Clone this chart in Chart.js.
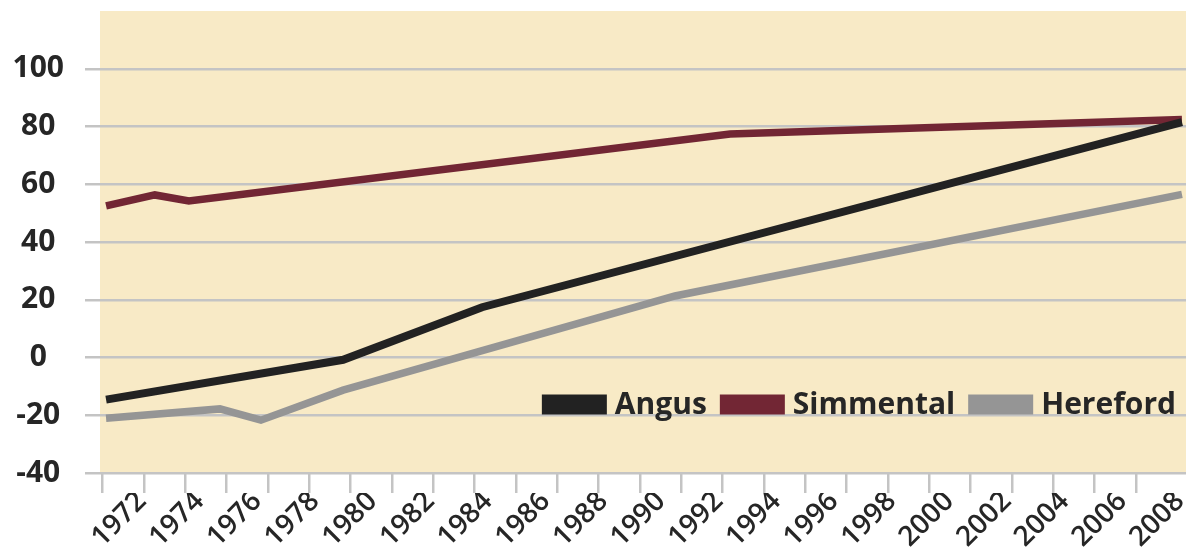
<!DOCTYPE html>
<html><head><meta charset="utf-8">
<script src="https://cdn.jsdelivr.net/npm/chart.js@4"></script>
<style>html,body{margin:0;padding:0;background:#fff;}#wrap{width:1186px;height:550px;}</style>
</head><body><div id="wrap"><canvas id="c" width="1186" height="550"></canvas></div>
<script>
// ---- data ----
const seriesNames = ['Angus', 'Simmental', 'Hereford'];
const angusYears = [1970.86, 1979.08, 1983.90, 2008.17];
const angusValues = [-14.6, -0.8, 17.4, 81.5];
const simmentalYears = [1970.86, 1972.55, 1973.73, 1992.50, 2008.17];
const simmentalValues = [52.5, 56.3, 54.2, 77.4, 82.4];
const herefordYears = [1970.86, 1974.81, 1976.23, 1979.08, 1990.59, 2008.17];
const herefordValues = [-21.0, -17.8, -21.7, -11.3, 21.3, 56.5];
const xTickLabels = [1972, 1974, 1976, 1978, 1980, 1982, 1984, 1986, 1988, 1990, 1992, 1994, 1996, 1998, 2000, 2002, 2004, 2006, 2008];
const yTickValues = [-40, -20, 0, 20, 40, 60, 80, 100];
const tickMarkIndex = [0,1,2,3,4,5,6,7,8,9,10,11,12,13,14,15,16,17,18,19,20,21,22,23,24,25];

function pts(xs, ys) { return xs.map((x, i) => ({x: x, y: ys[i]})); }

const FONT = '"Open Sans", "Noto Sans", sans-serif';
const GRID = '#c4c4c4';

function noPad(s) { s.paddingTop = 0; s.paddingBottom = 0; s.paddingLeft = 0; s.paddingRight = 0; }

const bgPlugin = {
  id: 'plotBg',
  beforeDraw(chart) {
    const {ctx, chartArea: a} = chart;
    ctx.save();
    ctx.fillStyle = '#f8eac6';
    ctx.fillRect(a.left, a.top, a.right - a.left, a.bottom - a.top);
    ctx.restore();
  }
};

const legendPlugin = {
  id: 'insideLegend',
  afterDatasetsDraw(chart) {
    const {ctx, chartArea: a} = chart;
    ctx.save();
    ctx.font = 'bold 30px ' + FONT;
    ctx.textBaseline = 'middle';
    ctx.textAlign = 'left';
    const boxW = 65, boxH = 20, gapBT = 8, gapItem = 13;
    const items = chart.data.datasets.map(d => ({label: d.label, color: d.borderColor, w: ctx.measureText(d.label).width}));
    const total = items.reduce((s, it) => s + boxW + gapBT + it.w, 0) + gapItem * (items.length - 1);
    let x = a.right - 10 - total;
    const cy = a.bottom - 68.5;
    items.forEach(it => {
      ctx.fillStyle = it.color;
      ctx.fillRect(x, cy - boxH / 2, boxW, boxH);
      x += boxW + gapBT;
      ctx.fillStyle = '#262626';
      ctx.fillText(it.label, x, cy + 1);
      x += it.w + gapItem;
    });
    ctx.restore();
  }
};

new Chart(document.getElementById('c'), {
  type: 'line',
  data: {
    datasets: [
      {label: seriesNames[0], data: pts(angusYears, angusValues), borderColor: '#222222', borderWidth: 8},
      {label: seriesNames[1], data: pts(simmentalYears, simmentalValues), borderColor: '#722634', borderWidth: 7.5},
      {label: seriesNames[2], data: pts(herefordYears, herefordValues), borderColor: '#959595', borderWidth: 7.5}
    ].map(d => Object.assign(d, {pointRadius: 0, tension: 0, fill: false, borderCapStyle: 'butt', borderJoinStyle: 'miter', xAxisID: 'x', yAxisID: 'y'}))
  },
  options: {
    responsive: false,
    animation: false,
    devicePixelRatio: 1,
    layout: {padding: {top: 11, left: 0, right: 0, bottom: 0}},
    plugins: {legend: {display: false}, tooltip: {enabled: false}},
    scales: {
      xt: {
        type: 'linear', position: 'bottom', weight: 0,
        min: -0.0653, max: 26.21,
        afterBuildTicks: s => { s.ticks = tickMarkIndex.map(v => ({value: v})); },
        afterFit: s => { s.height = 20; noPad(s); },
        ticks: {display: false},
        border: {display: false},
        grid: {drawOnChartArea: false, drawTicks: true, tickLength: 20, color: GRID, lineWidth: 2.5}
      },
      x: {
        type: 'linear', position: 'bottom', weight: 1,
        min: 1970.65, max: 2008.31,
        afterBuildTicks: s => { s.ticks = xTickLabels.map(v => ({value: v})); },
        afterFit: s => { s.height = 57; noPad(s); },
        border: {display: false},
        grid: {display: false, drawTicks: false},
        ticks: {autoSkip: false, minRotation: 45, maxRotation: 45, padding: -8, labelOffset: 3, color: '#262626',
          font: {family: FONT, size: 28, weight: '600'}, callback: v => String(v)}
      },
      y: {
        type: 'linear', position: 'left',
        min: -40, max: 120,
        afterBuildTicks: s => { s.ticks = yTickValues.map(v => ({value: v})); },
        afterFit: s => { s.width = 100; noPad(s); },
        border: {display: false},
        grid: {color: GRID, lineWidth: 2.5, tickLength: 15, drawTicks: true},
        ticks: {crossAlign: 'center', padding: 21, color: '#262626',
          font: {family: FONT, size: 30, weight: 'bold'}, callback: v => String(v)}
      }
    }
  },
  plugins: [bgPlugin, legendPlugin]
});
</script>
</body></html>
